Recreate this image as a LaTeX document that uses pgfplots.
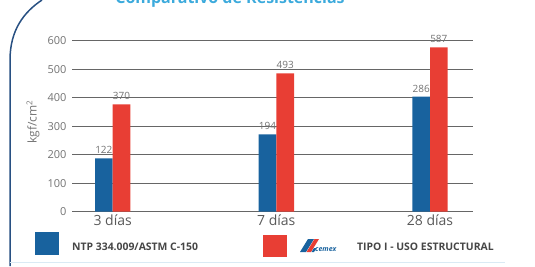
\documentclass[border=0pt]{standalone}
\usepackage{fontspec}
\setmainfont{Open Sans}
\usepackage{pgfplots}
\usepackage{pgfplotstable}
\pgfplotsset{compat=1.18}
\definecolor{barblue}{RGB}{24,98,158}
\definecolor{barred}{RGB}{232,62,52}
\definecolor{tickc}{RGB}{115,115,115}
\definecolor{framec}{RGB}{40,80,130}
\definecolor{titleblue}{RGB}{60,170,220}
\definecolor{legc}{RGB}{70,70,70}
\pgfplotstableread{
x y lab
112.7 187 122
276.3 271.6 194
430 403.5 286
}\ntp
\pgfplotstableread{
x y lab
112.7 377 370
276.3 485.6 493
430 577 587
}\cemex
\begin{document}
\begin{tikzpicture}[x=1pt,y=1pt]
\useasboundingbox (0,0) rectangle (535,266);
\begin{axis}[
  at={(72pt,54.3pt)}, anchor=south west,
  scale only axis, width=401pt, height=171pt,
  xmin=72, xmax=473, ymin=0, ymax=600,
  ytick={0,100,...,600},
  xtick={112.7,276.3,430},
  xticklabels={3 días,7 días,28 días},
  axis line style={draw=none},
  major tick length=0pt,
  ymajorgrids,
  grid style={draw=black!60, line width=0.9pt},
  ybar, bar width=17.7pt,
  clip=false,
  /pgf/number format/assume math mode=true,
  yticklabel style={font=\fontsize{11}{13}\selectfont, text=tickc, xshift=-2pt},
  xticklabel style={font=\fontsize{14}{16}\selectfont, text=black!65, yshift=0.5pt},
  nodes near coords,
  point meta=explicit symbolic,
  every node near coord/.append style={font=\fontsize{10}{12}\selectfont, text=tickc, yshift=1pt},
]
\addplot[fill=barblue, draw=none, bar shift=-8.85pt] table[x=x, y=y, meta=lab] {\ntp};
\addplot[fill=barred, draw=none, bar shift=8.85pt] table[x=x, y=y, meta=lab] {\cemex};
\node[rotate=90, font=\fontsize{12}{14}\selectfont, text=tickc] at (axis cs:33,315) {kgf/cm\textsuperscript{2}};
\end{axis}
% frame
\draw[framec, line width=1.5pt] (42,266) .. controls (24,254) and (10,236) .. (10,206) -- (10,0);
\draw[color={rgb,255:red,218;green,234;blue,244}, line width=1pt] (10,3.5) -- (505,3.5);
% title
\node[anchor=base, font=\bfseries\fontsize{16}{18}\selectfont, text=titleblue] at (230,262.5) {Comparativo de Resistencias};
% legend
\fill[barblue] (35,11) rectangle (59,34.3);
\node[anchor=west, inner sep=0pt, font=\bfseries\fontsize{10.4}{12}\selectfont, text=legc] at (72,19.5) {NTP 334.009/ASTM C-150};
\fill[barred] (263,9) rectangle (287,31);
% cemex logo
\fill[barblue] (300,14) -- (306,14) -- (314,27) -- (308,27) -- cycle;
\fill[barred] (306.5,14) -- (311,14) -- (319,27) -- (314.5,27) -- cycle;
\fill[barblue] (311.5,14) -- (314,14) -- (316.5,18) -- (314,18) -- cycle;
\node[anchor=south west, inner sep=0pt, font=\bfseries\itshape\fontsize{7}{8}\selectfont, text=barblue] at (315,14) {cemex};
\node[anchor=west, inner sep=0pt, font=\bfseries\fontsize{10.4}{12}\selectfont, text=legc] at (357,19.5) {TIPO I - USO ESTRUCTURAL};
\end{tikzpicture}
\end{document}
